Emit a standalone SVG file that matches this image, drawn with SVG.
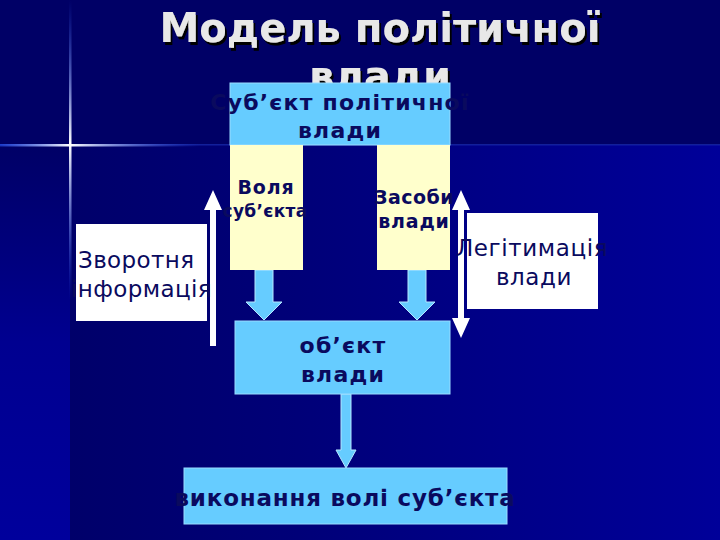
<svg xmlns="http://www.w3.org/2000/svg" width="720" height="540" viewBox="0 0 720 540">
<defs>
<linearGradient id="bgLow" x1="0" y1="0" x2="1" y2="0">
<stop offset="0" stop-color="#00006a"/>
<stop offset="0.35" stop-color="#000078"/>
<stop offset="1" stop-color="#000099"/>
</linearGradient>
<linearGradient id="bgLeft" x1="0" y1="0" x2="0" y2="1">
<stop offset="0" stop-color="#000066"/>
<stop offset="0.5" stop-color="#000090"/>
<stop offset="1" stop-color="#00009c"/>
</linearGradient>
<linearGradient id="flareH" x1="0" y1="0" x2="1" y2="0">
<stop offset="0" stop-color="#2a5cff" stop-opacity="0.5"/>
<stop offset="0.35" stop-color="#ffffff"/>
<stop offset="1" stop-color="#2a5cff" stop-opacity="0"/>
</linearGradient>
<linearGradient id="flareV" x1="0" y1="0" x2="0" y2="1">
<stop offset="0" stop-color="#2a5cff" stop-opacity="0"/>
<stop offset="0.48" stop-color="#ffffff"/>
<stop offset="1" stop-color="#2a5cff" stop-opacity="0"/>
</linearGradient>
<filter id="shadow" x="-10%" y="-10%" width="120%" height="130%">
<feOffset dx="2" dy="3" in="SourceAlpha" result="o"/>
<feFlood flood-color="#000000"/>
<feComposite in2="o" operator="in"/>
<feMerge><feMergeNode/><feMergeNode in="SourceGraphic"/></feMerge>
</filter>
</defs>
<style>
.t{font-family:"DejaVu Sans","Liberation Sans",sans-serif;fill:#0a0a5e;text-anchor:middle}
.b{font-weight:bold}
.s{text-anchor:start}
.e{text-anchor:end}
.blue{fill:#66ccff;stroke:#9adcff;stroke-width:1}
.yel{fill:#ffffcc}
.wht{fill:#ffffff}
.arr{fill:#66ccff;stroke:#b5e6ff;stroke-width:1}
.warr{fill:#ffffff}
</style>
<!-- background -->
<rect x="0" y="0" width="720" height="540" fill="#000066"/>
<rect x="70" y="145" width="650" height="395" fill="url(#bgLow)"/>
<rect x="0" y="145" width="70" height="395" fill="url(#bgLeft)"/>
<rect x="0" y="144" width="720" height="1.5" fill="#1a2cb0" opacity="0.7"/>
<rect x="0" y="144" width="200" height="2.5" fill="url(#flareH)"/>
<rect x="69" y="0" width="2.5" height="300" fill="url(#flareV)"/>
<!-- title -->
<g id="title" filter="url(#shadow)" font-family="DejaVu Sans, Liberation Sans, sans-serif" font-weight="bold" font-size="40" fill="#e8e8e8" text-anchor="middle">
<text x="380" y="42">Модель політичної</text>
<text x="380" y="90">влади</text>
</g>
<!-- connectors -->
<g id="connectors">
<polygon class="arr" points="255,270 273,270 273,302 282,302 264,320 246,302 255,302"/>
<polygon class="arr" points="408,270 426,270 426,302 435,302 417,320 399,302 408,302"/>
<polygon class="arr" points="341,394 351,394 351,450 356,450 346,468 336,450 341,450"/>
<polygon class="warr" points="210,346 216,346 216,210 222,210 213,190 204,210 210,210"/>
<polygon class="warr" points="458,210 458,318 452,318 461,338 470,318 464,318 464,210 470,210 461,190 452,210"/>
</g>
<g id="subject">
<rect class="blue" x="230" y="83" width="220" height="62"/>
<text class="t b" x="340" y="110" font-size="22" letter-spacing="1.2">Суб’єкт політичної</text>
<text class="t b" x="340" y="138" font-size="22" letter-spacing="1.2">влади</text>
</g>
<g id="will">
<rect class="yel" x="230" y="145" width="73" height="125"/>
<text class="t b" x="266" y="194" font-size="19" letter-spacing="0.8">Воля</text>
<text class="t b" x="265" y="217" font-size="17" letter-spacing="0.3">суб’єкта</text>
</g>
<g id="means">
<rect class="yel" x="377" y="145" width="73" height="125"/>
<text class="t b" x="414" y="204" font-size="19" letter-spacing="0.5">Засоби</text>
<text class="t b" x="414" y="228" font-size="19" letter-spacing="0.8">влади</text>
</g>
<g id="object">
<rect class="blue" x="235" y="321" width="215" height="73"/>
<text class="t b" x="343" y="353" font-size="22" letter-spacing="1.2">об’єкт</text>
<text class="t b" x="343" y="382" font-size="22" letter-spacing="1.2">влади</text>
</g>
<g id="execution">
<rect class="blue" x="184" y="468" width="323" height="56"/>
<text class="t b" x="345" y="506" font-size="23" letter-spacing="0.8">виконання волі суб’єкта</text>
</g>
<g id="feedback">
<rect class="wht" x="76" y="224" width="131" height="97"/>
<text class="t s" x="78" y="268" font-size="23" letter-spacing="0.4">Зворотня</text>
<text class="t e" x="212" y="297" font-size="23" letter-spacing="0.4">інформація</text>
</g>
<g id="legitimacy">
<rect class="wht" x="467" y="213" width="131" height="96"/>
<text class="t" x="532" y="256" font-size="23" letter-spacing="0.6">Легітимація</text>
<text class="t" x="534" y="285" font-size="23" letter-spacing="0.6">влади</text>
</g>
</svg>
